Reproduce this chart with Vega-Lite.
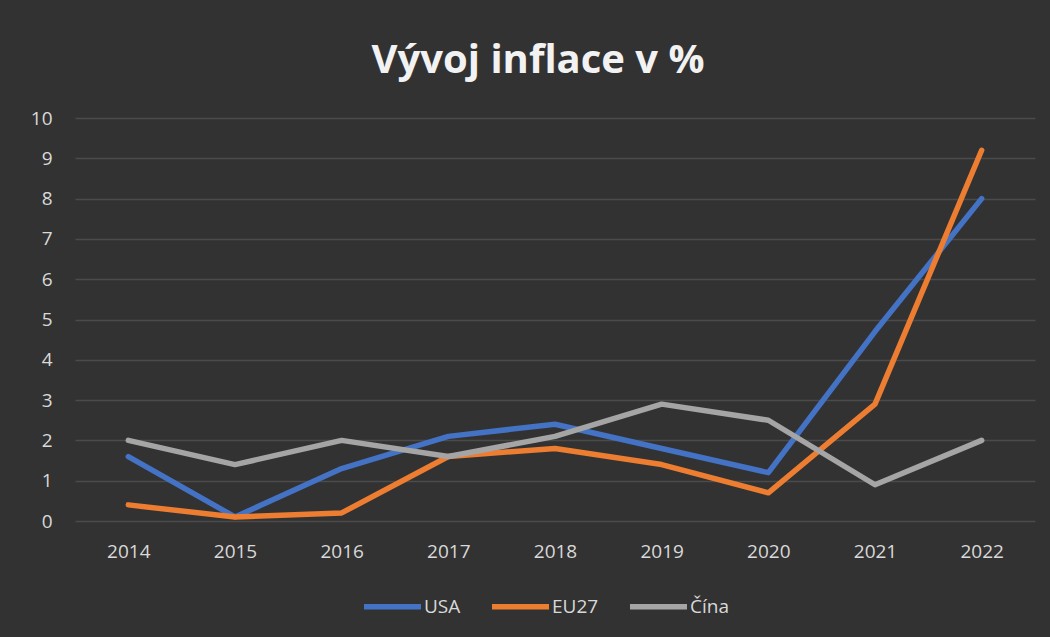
{
  "$schema": "https://vega.github.io/schema/vega-lite/v6.json",
  "autosize": "none",
  "width": 960,
  "height": 403,
  "padding": {"left": 75, "top": 118, "right": 15, "bottom": 116},
  "background": "#323232",
  "title": {
    "text": "Vývoj inflace v %",
    "font": "Open Sans",
    "fontSize": 40,
    "fontWeight": "bold",
    "color": "#f2f2f2",
    "anchor": "middle",
    "dx": -17,
    "offset": 28
  },
  "data": {
    "values": [
      {"rok": "2014", "zeme": "USA", "inflace": 1.6},
      {"rok": "2015", "zeme": "USA", "inflace": 0.1},
      {"rok": "2016", "zeme": "USA", "inflace": 1.3},
      {"rok": "2017", "zeme": "USA", "inflace": 2.1},
      {"rok": "2018", "zeme": "USA", "inflace": 2.4},
      {"rok": "2019", "zeme": "USA", "inflace": 1.8},
      {"rok": "2020", "zeme": "USA", "inflace": 1.2},
      {"rok": "2021", "zeme": "USA", "inflace": 4.7},
      {"rok": "2022", "zeme": "USA", "inflace": 8.0},
      {"rok": "2014", "zeme": "EU27", "inflace": 0.4},
      {"rok": "2015", "zeme": "EU27", "inflace": 0.1},
      {"rok": "2016", "zeme": "EU27", "inflace": 0.2},
      {"rok": "2017", "zeme": "EU27", "inflace": 1.6},
      {"rok": "2018", "zeme": "EU27", "inflace": 1.8},
      {"rok": "2019", "zeme": "EU27", "inflace": 1.4},
      {"rok": "2020", "zeme": "EU27", "inflace": 0.7},
      {"rok": "2021", "zeme": "EU27", "inflace": 2.9},
      {"rok": "2022", "zeme": "EU27", "inflace": 9.2},
      {"rok": "2014", "zeme": "Čína", "inflace": 2.0},
      {"rok": "2015", "zeme": "Čína", "inflace": 1.4},
      {"rok": "2016", "zeme": "Čína", "inflace": 2.0},
      {"rok": "2017", "zeme": "Čína", "inflace": 1.6},
      {"rok": "2018", "zeme": "Čína", "inflace": 2.1},
      {"rok": "2019", "zeme": "Čína", "inflace": 2.9},
      {"rok": "2020", "zeme": "Čína", "inflace": 2.5},
      {"rok": "2021", "zeme": "Čína", "inflace": 0.9},
      {"rok": "2022", "zeme": "Čína", "inflace": 2.0}
    ]
  },
  "mark": {"type": "line", "strokeWidth": 5.5, "strokeCap": "round", "strokeJoin": "round"},
  "encoding": {
    "x": {
      "field": "rok",
      "type": "ordinal",
      "scale": {"type": "point", "padding": 0.5},
      "axis": {
        "title": null,
        "labelAngle": 0,
        "domain": false,
        "ticks": false,
        "grid": false,
        "labelPadding": 21,
        "labelFontSize": 19,
        "labelFont": "Open Sans",
        "labelColor": "#d9d9d9"
      }
    },
    "y": {
      "field": "inflace",
      "type": "quantitative",
      "scale": {"domain": [0, 10], "nice": false},
      "axis": {
        "title": null,
        "values": [0,1,2,3,4,5,6,7,8,9,10],
        "labelOverlap": false,
        "domain": false,
        "ticks": false,
        "grid": true,
        "gridColor": "#4b4b4b",
        "gridWidth": 1.5,
        "labelPadding": 23,
        "labelFontSize": 19,
        "labelFont": "Open Sans",
        "labelColor": "#d9d9d9"
      }
    },
    "color": {
      "field": "zeme",
      "type": "nominal",
      "sort": ["USA", "EU27", "Čína"],
      "scale": {"domain": ["USA", "EU27", "Čína"], "range": ["#4472c4", "#ed7d31", "#a5a5a5"]},
      "legend": {
        "title": null,
        "orient": "none",
        "legendX": 286,
        "legendY": 457,
        "direction": "horizontal",
        "symbolType": "stroke",
        "symbolSize": 3249,
        "symbolStrokeWidth": 5.5,
        "labelFontSize": 19,
        "labelFont": "Open Sans",
        "labelColor": "#d9d9d9",
        "labelOffset": 0,
        "columnPadding": 20
      }
    }
  },
  "config": {
    "view": {"stroke": null}
  }
}
